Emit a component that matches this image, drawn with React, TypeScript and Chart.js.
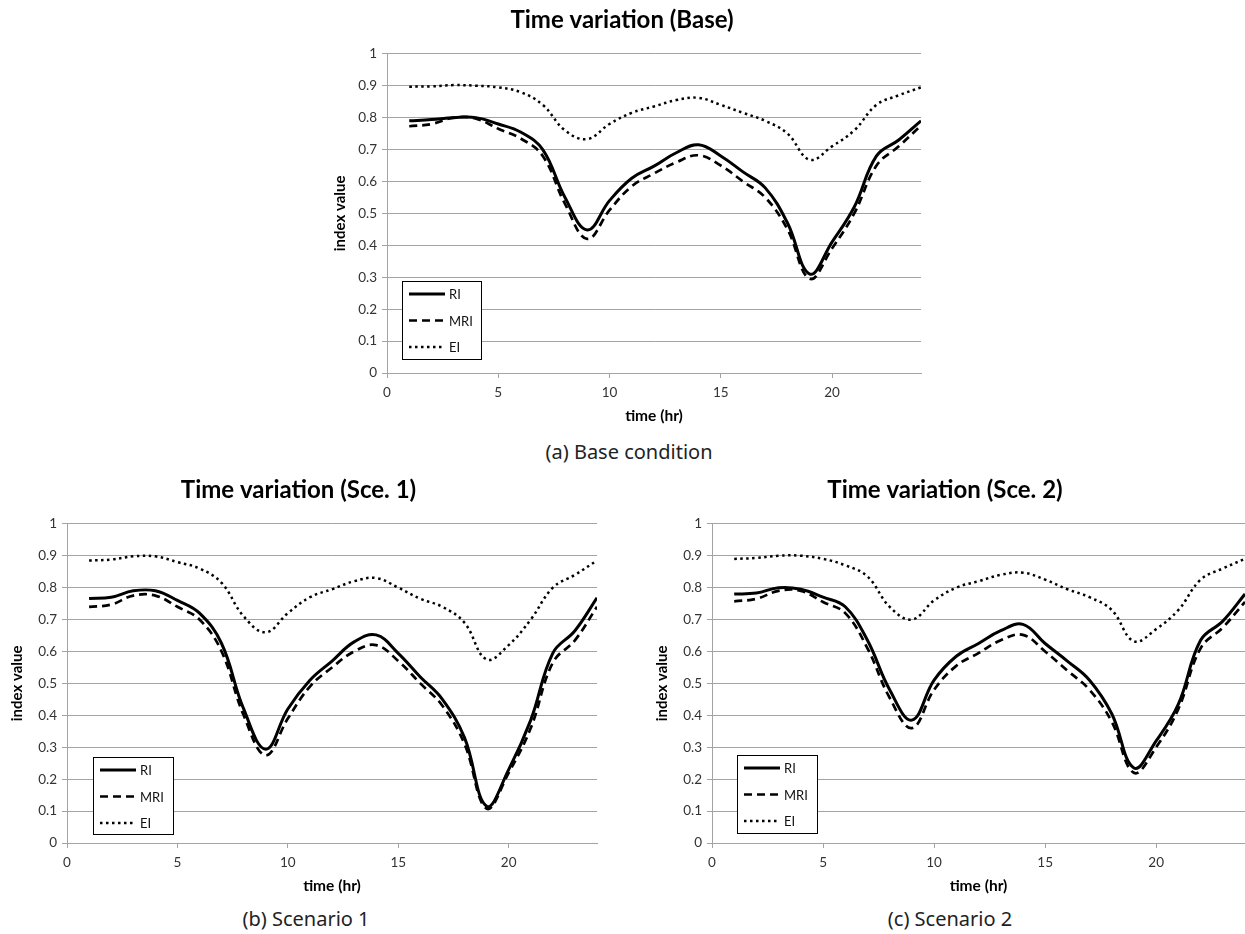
import React, { useEffect, useRef } from "react";
import { Chart, registerables } from "chart.js";

Chart.register(...registerables);

const hours = [1, 2, 3, 4, 5, 6, 7, 8, 9, 10, 11, 12, 13, 14, 15, 16, 17, 18, 19, 20, 21, 22, 23, 24];

const baseRI = [0.79, 0.794, 0.8, 0.8, 0.78, 0.755, 0.7, 0.55, 0.448, 0.54, 0.61, 0.648, 0.69, 0.715, 0.68, 0.63, 0.58, 0.47, 0.31, 0.41, 0.52, 0.68, 0.73, 0.79];
const baseMRI = [0.773, 0.78, 0.8, 0.797, 0.765, 0.735, 0.68, 0.53, 0.42, 0.51, 0.585, 0.625, 0.66, 0.682, 0.65, 0.6, 0.55, 0.45, 0.295, 0.39, 0.5, 0.65, 0.71, 0.775];
const baseEI = [0.897, 0.898, 0.902, 0.9, 0.895, 0.88, 0.84, 0.76, 0.733, 0.78, 0.815, 0.835, 0.855, 0.862, 0.84, 0.815, 0.79, 0.75, 0.668, 0.71, 0.76, 0.84, 0.87, 0.895];

const sce1RI = [0.766, 0.77, 0.79, 0.79, 0.76, 0.72, 0.625, 0.42, 0.294, 0.42, 0.51, 0.57, 0.63, 0.652, 0.594, 0.52, 0.45, 0.33, 0.115, 0.23, 0.385, 0.595, 0.665, 0.768];
const sce1MRI = [0.74, 0.747, 0.775, 0.775, 0.74, 0.7, 0.6, 0.4, 0.275, 0.39, 0.49, 0.55, 0.6, 0.62, 0.57, 0.5, 0.43, 0.31, 0.108, 0.22, 0.36, 0.565, 0.635, 0.74];
const sce1EI = [0.885, 0.888, 0.898, 0.898, 0.88, 0.86, 0.815, 0.71, 0.66, 0.72, 0.77, 0.795, 0.82, 0.83, 0.8, 0.765, 0.74, 0.69, 0.575, 0.62, 0.7, 0.8, 0.84, 0.885];

const sce2RI = [0.78, 0.783, 0.8, 0.795, 0.77, 0.74, 0.635, 0.48, 0.385, 0.51, 0.585, 0.625, 0.665, 0.685, 0.625, 0.57, 0.51, 0.405, 0.235, 0.32, 0.435, 0.635, 0.695, 0.78];
const sce2MRI = [0.757, 0.765, 0.79, 0.79, 0.755, 0.72, 0.61, 0.455, 0.36, 0.48, 0.555, 0.595, 0.635, 0.652, 0.6, 0.54, 0.48, 0.38, 0.22, 0.3, 0.42, 0.61, 0.675, 0.755];
const sce2EI = [0.89, 0.893, 0.9, 0.9, 0.89, 0.87, 0.835, 0.74, 0.7, 0.76, 0.8, 0.82, 0.84, 0.847, 0.825, 0.795, 0.77, 0.73, 0.632, 0.67, 0.73, 0.825, 0.86, 0.89];

const seriesNames = ["RI", "MRI", "EI"];
const chartTitles = ["Time variation (Base)", "Time variation (Sce. 1)", "Time variation (Sce. 2)"];
const captions = ["(a) Base condition", "(b) Scenario 1", "(c) Scenario 2"];
const xTitle = "time (hr)";
const yTitle = "index value";

const FONT = "Lato, 'Liberation Sans', sans-serif";

const boxLegend = {
  id: "boxLegend",
  afterDatasetsDraw(chart: any, _args: any, opts: any) {
    const { ctx, chartArea } = chart;
    const x = Math.round(chartArea.left + opts.dx);
    const y = Math.round(chartArea.bottom - opts.dy);
    ctx.save();
    ctx.fillStyle = "#fff";
    ctx.fillRect(x, y, opts.w, opts.h);
    ctx.strokeStyle = "#000";
    ctx.lineWidth = 1;
    ctx.setLineDash([]);
    ctx.strokeRect(x + 0.5, y + 0.5, opts.w, opts.h);
    chart.data.datasets.forEach((ds: any, i: number) => {
      const ly = y + 13 + i * 26.5;
      ctx.beginPath();
      ctx.setLineDash(ds.borderDash || []);
      ctx.lineWidth = ds.borderWidth;
      ctx.strokeStyle = ds.borderColor;
      ctx.lineCap = "butt";
      ctx.moveTo(x + 7, ly);
      ctx.lineTo(x + 43, ly);
      ctx.stroke();
      ctx.setLineDash([]);
      ctx.fillStyle = "#111";
      ctx.font = "13px " + FONT;
      ctx.textBaseline = "middle";
      ctx.textAlign = "left";
      ctx.fillText(ds.label, x + 47, ly + 1);
    });
    ctx.restore();
  },
};

type Props = {
  left: number;
  top: number;
  width: number;
  height: number;
  yWidth: number;
  padRight: number;
  title: string;
  ri: number[];
  mri: number[];
  ei: number[];
  legend: { dx: number; dy: number; w: number; h: number };
};

function toPts(vals: number[]) {
  return hours.map((h, i) => ({ x: h, y: vals[i] }));
}

function LineChart(p: Props) {
  const ref = useRef<HTMLCanvasElement | null>(null);
  useEffect(() => {
    if (!ref.current) return;
    const grid = "#a3a3a3";
    const chart = new Chart(ref.current, {
      type: "line",
      data: {
        datasets: [
          {
            label: seriesNames[0],
            data: toPts(p.ri),
            borderColor: "#000",
            borderWidth: 3,
            pointRadius: 0,
            tension: 0.4,
            fill: false,
          },
          {
            label: seriesNames[1],
            data: toPts(p.mri),
            borderColor: "#000",
            borderWidth: 2.7,
            borderDash: [8, 5],
            pointRadius: 0,
            tension: 0.4,
            fill: false,
          },
          {
            label: seriesNames[2],
            data: toPts(p.ei),
            borderColor: "#000",
            borderWidth: 2.5,
            borderDash: [2.5, 3.5],
            pointRadius: 0,
            tension: 0.4,
            fill: false,
          },
        ],
      },
      options: {
        animation: false,
        responsive: false,
        devicePixelRatio: 1,
        layout: { padding: { left: 0, right: p.padRight, top: 0, bottom: 0 } },
        plugins: {
          legend: { display: false },
          tooltip: { enabled: false },
          title: {
            display: true,
            text: p.title,
            color: "#000",
            font: { family: FONT, size: 24, weight: "bold" },
            padding: { top: 6, bottom: 19 },
          },
          boxLegend: p.legend,
        } as any,
        scales: {
          x: {
            type: "linear",
            min: 0,
            max: 24,
            afterFit: (s: any) => {
              s.height = 57;
            },
            ticks: {
              stepSize: 5,
              includeBounds: false,
              color: "#333",
              padding: 7,
              font: { family: FONT, size: 13.5 },
              maxRotation: 0,
            },
            grid: {
              drawOnChartArea: false,
              drawTicks: true,
              tickLength: 5,
              color: grid,
            },
            border: { color: grid, width: 1 },
            title: {
              display: true,
              text: xTitle,
              color: "#000",
              font: { family: FONT, size: 15.5, weight: "bold" },
              padding: { top: 0, bottom: 5 },
            },
          },
          y: {
            type: "linear",
            min: 0,
            max: 1,
            afterFit: (s: any) => {
              s.width = p.yWidth;
            },
            ticks: {
              stepSize: 0.1,
              color: "#333",
              padding: 5,
              font: { family: FONT, size: 13.5 },
              callback: (v: any) => String(Math.round(Number(v) * 10) / 10),
            },
            grid: {
              color: grid,
              lineWidth: 1,
              tickLength: 5,
            },
            border: { color: grid, width: 1 },
            title: {
              display: true,
              text: yTitle,
              color: "#000",
              font: { family: FONT, size: 15, weight: "bold" },
              padding: { top: 8, bottom: 0 },
            },
          },
        },
      },
      plugins: [boxLegend as any],
    });
    return () => chart.destroy();
  }, []);
  return (
    <canvas
      ref={ref}
      width={p.width}
      height={p.height}
      style={{ position: "absolute", left: p.left, top: p.top, width: p.width, height: p.height }}
    />
  );
}

function Caption({ text, cx, cy }: { text: string; cx: number; cy: number }) {
  return (
    <div
      style={{
        position: "absolute",
        left: cx,
        top: cy,
        transform: "translate(-50%, -50%)",
        fontFamily: "'Noto Sans', 'Open Sans', sans-serif",
        fontSize: 20,
        color: "#222",
        whiteSpace: "nowrap",
      }}
    >
      {text}
    </div>
  );
}

export default function App() {
  return (
    <div style={{ position: "absolute", left: 0, top: 0, width: 1245, height: 934, background: "#fff", overflow: "hidden" }}>
      <LineChart
        left={323}
        top={0}
        width={607}
        height={430}
        yWidth={64}
        padRight={9}
        title={chartTitles[0]}
        ri={baseRI}
        mri={baseMRI}
        ei={baseEI}
        legend={{ dx: 15, dy: 92, w: 79, h: 78 }}
      />
      <LineChart
        left={0}
        top={470}
        width={610}
        height={430}
        yWidth={67}
        padRight={13}
        title={chartTitles[1]}
        ri={sce1RI}
        mri={sce1MRI}
        ei={sce1EI}
        legend={{ dx: 26, dy: 86, w: 80, h: 77 }}
      />
      <LineChart
        left={645}
        top={470}
        width={600}
        height={430}
        yWidth={67}
        padRight={0}
        title={chartTitles[2]}
        ri={sce2RI}
        mri={sce2MRI}
        ei={sce2EI}
        legend={{ dx: 25, dy: 88, w: 80, h: 78 }}
      />
      <Caption text={captions[0]} cx={629} cy={451} />
      <Caption text={captions[1]} cx={306} cy={918} />
      <Caption text={captions[2]} cx={950} cy={918} />
    </div>
  );
}
